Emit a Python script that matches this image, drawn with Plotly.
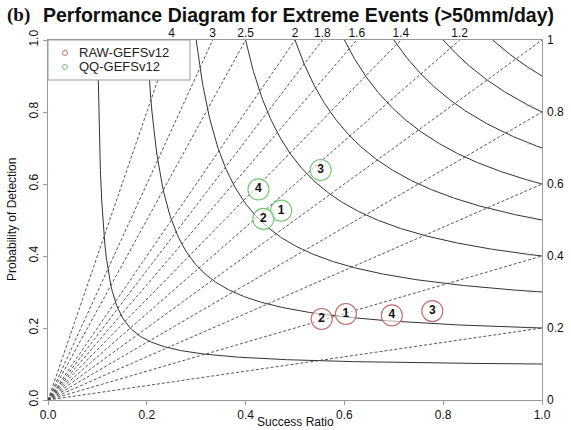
import numpy as np
import plotly.graph_objects as go

# Critical Success Index contour levels (solid curves)
csi_levels = [0.1, 0.2, 0.3, 0.4, 0.5, 0.6, 0.7, 0.8, 0.9]
# Frequency bias lines (dashed, from the origin)
bias_values = [0.2, 0.4, 0.6, 0.8, 1, 1.2, 1.4, 1.6, 1.8, 2, 2.5, 3, 4]
right_vals = [0, 0.2, 0.4, 0.6, 0.8, 1]
right_labels = ["0", "0.2", "0.4", "0.6", "0.8", "1"]

# Lead-day verification points
point_ids = ["1", "2", "3", "4"]
raw_sr = [0.603, 0.554, 0.778, 0.696]
raw_pod = [0.239, 0.225, 0.247, 0.235]
qq_sr = [0.472, 0.436, 0.552, 0.426]
qq_pod = [0.526, 0.503, 0.639, 0.585]

RAW_COL = "#c46a6a"
QQ_COL = "#72c872"
FONT = "Liberation Sans, Arial, sans-serif"
SERIF = "Liberation Serif, Times New Roman, serif"

fig = go.Figure()

# CSI curves: CSI = 1 / (1/SR + 1/POD - 1)
for c in csi_levels:
    sr = np.linspace(c, 1.0, 300)
    pod = 1.0 / (1.0 / c + 1.0 - 1.0 / sr)
    fig.add_trace(go.Scatter(x=sr, y=pod, mode="lines",
                             line=dict(color="#333333", width=1),
                             hoverinfo="skip", showlegend=False))

# bias lines POD = b * SR
for b in bias_values:
    x_end = min(1.0, 1.0 / b)
    fig.add_trace(go.Scatter(x=[0, x_end], y=[0, b * x_end], mode="lines",
                             line=dict(color="#444444", width=0.9, dash="3px,2px"),
                             hoverinfo="skip", showlegend=False))

# faint CSI labels near the right edge
for c in csi_levels:
    sr = 0.975
    pod = 1.0 / (1.0 / c + 1.0 - 1.0 / sr)
    fig.add_annotation(x=sr, y=pod, text=f"{c:g}", showarrow=False,
                       font=dict(size=4, color="#aaaaaa", family=FONT))

for sr_vals, pod_vals, col in [(raw_sr, raw_pod, RAW_COL), (qq_sr, qq_pod, QQ_COL)]:
    fig.add_trace(go.Scatter(
        x=sr_vals, y=pod_vals, mode="markers+text",
        marker=dict(symbol="circle", size=21, color="rgba(255,255,255,0.6)",
                    line=dict(color=col, width=1.1)),
        text=[f"<b>{t}</b>" for t in point_ids], textposition="middle center",
        textfont=dict(size=12, color="#111111", family=FONT),
        hoverinfo="skip", showlegend=False))

# top axis for bias labels (> 1), right axis for bias/CSI values
top_bias = [b for b in bias_values if b > 1]
fig.add_trace(go.Scatter(x=[None], y=[None], xaxis="x2", yaxis="y2", showlegend=False))

fig.update_layout(
    width=571, height=430,
    margin=dict(l=48, r=29, t=40, b=30, autoexpand=False),
    paper_bgcolor="white", plot_bgcolor="white",
    showlegend=False,
    font=dict(family=FONT, size=12, color="#111111"),
    xaxis=dict(range=[0, 1], tickvals=[0, 0.2, 0.4, 0.6, 0.8, 1.0],
               ticktext=["0.0", "0.2", "0.4", "0.6", "0.8", "1.0"],
               showgrid=False, zeroline=False, automargin=False,
               showline=True, linecolor="#999999", linewidth=1, mirror=True,
               ticks="outside", ticklen=4, tickcolor="#999999",
               tickfont=dict(size=12)),
    yaxis=dict(range=[0, 1], tickvals=[0, 0.2, 0.4, 0.6, 0.8, 1.0],
               ticktext=["0.0", "0.2", "0.4", "0.6", "0.8", "1.0"],
               tickangle=-90, automargin=False,
               showgrid=False, zeroline=False,
               showline=True, linecolor="#999999", linewidth=1, mirror=True,
               ticks="outside", ticklen=4, tickcolor="#999999",
               tickfont=dict(size=12)),
    xaxis2=dict(overlaying="x", side="top", range=[0, 1], automargin=False,
                tickvals=[1.0 / b for b in top_bias],
                ticktext=[f"{b:g}" for b in top_bias],
                showgrid=False, zeroline=False, showline=False,
                ticks="", tickfont=dict(size=12)),
    yaxis2=dict(overlaying="y", side="right", range=[0, 1], automargin=False,
                tickvals=right_vals, ticktext=right_labels,
                showgrid=False, zeroline=False, showline=False,
                ticks="", ticklabelstandoff=4,
                tickfont=dict(size=12)),
)

# title: serif panel tag followed by the sans-serif heading
fig.add_annotation(xref="paper", yref="paper", x=(5 - 48) / 494, y=(400 - 15) / 360,
                   text="<b>(b)</b>", showarrow=False, xanchor="left", yanchor="middle",
                   font=dict(size=19, family=SERIF, color="#111111"))
fig.add_annotation(xref="paper", yref="paper", x=(41 - 48) / 494, y=(400 - 15) / 360,
                   text="<b>Performance Diagram for Extreme Events (>50mm/day)</b>",
                   showarrow=False, xanchor="left", yanchor="middle",
                   font=dict(size=19.5, family=FONT, color="#111111"))

# legend box
lx1 = (190 - 48) / 494
ly0 = (400 - 80) / 360
fig.add_shape(type="rect", xref="paper", yref="paper", x0=0, x1=lx1, y0=ly0, y1=1,
              fillcolor="white", line=dict(color="#999999", width=1), layer="above")
for ypos, col, name in [(0.964, RAW_COL, "RAW-GEFSv12"), (0.925, QQ_COL, "QQ-GEFSv12")]:
    fig.add_shape(type="circle", xref="paper", yref="paper",
                  xsizemode="pixel", ysizemode="pixel",
                  xanchor=0.0344, yanchor=ypos, x0=-2.5, x1=2.5, y0=-2.5, y1=2.5,
                  line=dict(color=col, width=1), fillcolor="white", layer="above")
    fig.add_annotation(xref="paper", yref="paper", x=0.0587, y=ypos, text=name,
                       showarrow=False, xanchor="left", yanchor="middle",
                       font=dict(size=13, color="#222222", family=FONT))

# axis titles
fig.add_annotation(xref="paper", yref="paper", x=0.5, y=(400 - 422) / 360,
                   text="Success Ratio", showarrow=False, yanchor="middle",
                   font=dict(size=12, family=FONT))
fig.add_annotation(xref="paper", yref="paper", x=(12 - 48) / 494, y=0.5,
                   text="Probability of Detection", showarrow=False, textangle=-90,
                   xanchor="center", yanchor="middle",
                   font=dict(size=12, family=FONT))

fig.write_html("out.html")
